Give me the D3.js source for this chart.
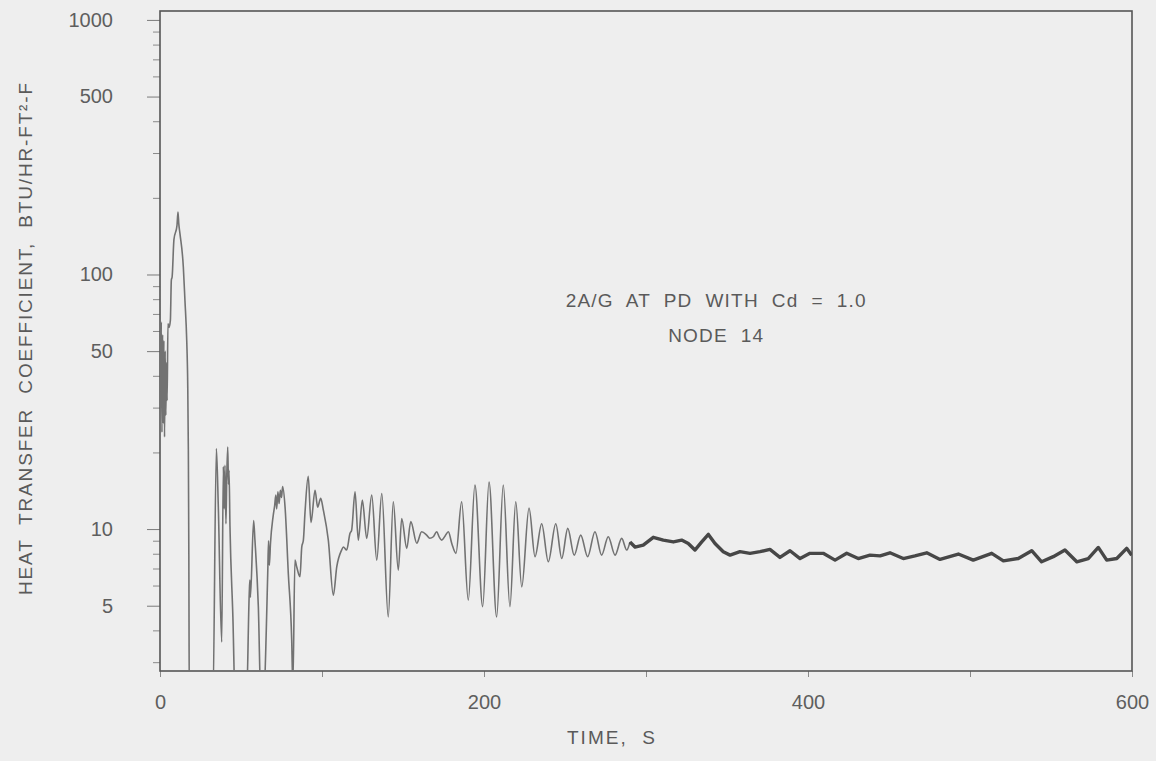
<!DOCTYPE html>
<html>
<head>
<meta charset="utf-8">
<script src="https://cdn.jsdelivr.net/npm/d3@7"></script>
<style>
  html, body { margin: 0; padding: 0; background: #eeeeee; }
  svg { display: block; }
  text { font-family: "Liberation Sans", Arial, sans-serif; fill: #5a5a5a; }
</style>
</head>
<body>
<svg id="chart" width="1156" height="761"></svg>
<script>
// ---- data (time in s, heat transfer coefficient in BTU/HR-FT2-F) ----
const timeEarly = [
  0, 0.4, 0.8, 1.2, 1.6, 2.0, 2.4, 2.8, 3.2, 3.6, 4.0, 4.4, 4.9, 5.6, 6.4, 7.0, 7.5, 8.6, 10.5, 11.1, 11.6, 12.3, 14.4, 15.4, 16.5, 17.1, 17.5, 17.8, 18.1,
  32.6, 34.8, 36.0, 38.1, 39.1, 39.6, 40.1, 40.7, 41.2, 41.8, 42.3, 42.6, 43.2, 45.0, 46.5,
  53.3, 55.1, 55.5, 55.8, 57.8, 58.6, 60.7, 62.4,
  63.6, 66.5, 67.0, 67.5, 68.2, 69.8, 70.8, 71.5, 72.0, 72.8, 73.5, 74.3, 75.0, 75.7, 77.2, 79.2, 81.3, 82.0,
  83.3, 84.4, 86.4, 87.5, 88.5, 89.5, 91.5, 93.2, 95.7, 97.3, 99.2, 100.8, 103.9, 107.0, 109.1, 112.1, 113.2, 115.2, 117.3, 118.3,
  120.4, 122.4, 124.9, 127.6, 130.7, 133.8, 136.9, 140.9, 144.0, 147.1, 149.2, 152.3, 154.8, 158.5, 161.5,
  164.6, 166.5, 168.7, 170.8, 172.4, 173.9, 176.0, 178.0, 180.1, 182.7,
  186.2, 190.3, 194.4, 199.2, 203.1, 207.8, 211.9, 216.0, 219.6, 223.3, 227.8, 231.5, 235.6, 239.7, 244.3, 248.0,
  251.7, 255.7, 259.7, 264.0, 268.5, 272.6, 276.7, 280.9, 285.0, 288.1, 290.1
];
const htcEarly = [
  112, 30, 65, 24, 58, 26, 55, 23, 50, 28, 45, 32, 64, 62, 66, 95, 98, 137, 156, 176, 158, 145, 107, 79, 55, 37.5, 20.4, 8, 2,
  2, 20.7, 12.2, 3.6, 17.6, 12, 17.8, 10.5, 16, 21.0, 15, 17, 10.2, 4.5, 2,
  2, 5.6, 6.3, 5.4, 10.8, 9.05, 4.96, 2,
  2, 6.7, 9.0, 7.2, 8.8, 11.2, 12.4, 13.6, 12.0, 14.0, 12.6, 14.2, 13.3, 14.7, 12.2, 6.7, 3.66, 2.4,
  7.55, 7.1, 6.5, 8.5, 9.05, 11.6, 16.1, 10.6, 14.2, 12.2, 13.2, 11.9, 9.05, 5.5, 7.1, 8.27, 8.5, 8.27, 9.62, 9.9,
  14.0, 9.05, 13.0, 9.19, 13.6, 7.55, 13.8, 4.52, 12.8, 6.9, 11.0, 8.4, 10.7, 8.8, 9.76,
  9.47, 9.2, 9.33, 9.76, 9.3, 9.05, 9.4, 9.76, 8.78, 8.03,
  12.8, 5.26, 14.9, 4.96, 15.3, 4.52, 14.9, 4.96, 12.8, 5.93, 12.1, 7.79, 10.5, 7.44, 10.5, 7.66,
  10.06, 7.9, 9.47, 7.79, 9.76, 7.9, 9.33, 7.9, 9.19, 8.27, 8.9
];
const timeLate = [
  290.1, 293.2, 298.3, 304.5, 310.7, 316.9, 322.0, 326.1, 330.2, 334.4, 338.5, 342.6, 347.7, 351.9, 358.0, 364.2,
  370.4, 376.5, 382.7, 388.9, 395.1, 401.2, 409.4, 416.7, 423.9, 431.0, 438.3, 444.5, 450.6, 458.8, 466.0, 473.3,
  481.5, 492.8, 502.0, 513.4, 520.6, 529.8, 538.1, 544.2, 551.4, 558.6, 565.9, 573.0, 579.2, 584.4, 590.6, 596.7, 599.8
];
const htcLate = [
  8.9, 8.5, 8.65, 9.28, 9.05, 8.9, 9.05, 8.78, 8.27, 8.9, 9.53, 8.78, 8.15, 7.9, 8.15, 8.03,
  8.15, 8.32, 7.74, 8.22, 7.66, 8.03, 8.03, 7.55, 8.03, 7.66, 7.9, 7.85, 8.07, 7.66, 7.85, 8.07,
  7.6, 7.98, 7.55, 8.03, 7.5, 7.66, 8.22, 7.44, 7.79, 8.27, 7.44, 7.66, 8.47, 7.55, 7.66, 8.4, 7.9
];
const yMajorTicks = [5, 10, 50, 100, 500, 1000];
const yMinorTicks = [3, 4, 6, 7, 8, 9, 20, 30, 40, 60, 70, 80, 90, 200, 300, 400, 600, 700, 800, 900];
const xMajorTicks = [0, 200, 400, 600];
const xMinorTicks = [100, 300, 500];
const yDomain = [2.77, 1084];
const xDomain = [0, 600];
const annotationLines = ["2A/G  AT  PD  WITH  Cd  =  1.0", "NODE  14"];
const xTitle = "TIME,  S";
const yTitle = "HEAT  TRANSFER  COEFFICIENT,  BTU/HR-FT²-F";

// ---- layout ----
const pL = 160, pR = 1132, pT = 11, pB = 671;
const svg = d3.select("#chart");
const x = d3.scaleLinear().domain(xDomain).range([pL, pR]);
const y = d3.scaleLog().domain(yDomain).range([pB, pT]);

svg.append("defs").append("clipPath").attr("id", "plotClip")
  .append("rect").attr("x", pL).attr("y", pT).attr("width", pR - pL).attr("height", pB - pT);

const fontFam = "'Liberation Sans', Arial, sans-serif";

// minor y ticks
const yMinorAxis = d3.axisLeft(y).tickValues(yMinorTicks).tickSize(7).tickFormat("");
svg.append("g").attr("transform", `translate(${pL},0)`).call(yMinorAxis)
  .call(g => g.select(".domain").remove())
  .call(g => g.selectAll("line").attr("stroke", "#8a8a8a").attr("stroke-width", 1));

// major y ticks
const yAxis = d3.axisLeft(y).tickValues(yMajorTicks).tickSize(13).tickPadding(34).tickFormat(d3.format("d"));
svg.append("g").attr("transform", `translate(${pL},0)`).call(yAxis)
  .call(g => g.select(".domain").remove())
  .call(g => g.selectAll("line").attr("stroke", "#7a7a7a").attr("stroke-width", 1))
  .call(g => g.selectAll("text").style("font-size", "20px").style("fill", "#5e5e5e").style("font-family", fontFam));

// x ticks
const xMinorAxis = d3.axisBottom(x).tickValues(xMinorTicks).tickSize(6).tickFormat("");
svg.append("g").attr("transform", `translate(0,${pB})`).call(xMinorAxis)
  .call(g => g.select(".domain").remove())
  .call(g => g.selectAll("line").attr("stroke", "#8a8a8a"));
const xAxis = d3.axisBottom(x).tickValues(xMajorTicks).tickSize(6).tickPadding(18).tickFormat(d3.format("d"));
svg.append("g").attr("transform", `translate(0,${pB})`).call(xAxis)
  .call(g => g.select(".domain").remove())
  .call(g => g.selectAll("line").attr("stroke", "#8a8a8a"))
  .call(g => g.selectAll("text").style("font-size", "20px").style("fill", "#5e5e5e").style("font-family", fontFam));

// frame
svg.append("rect").attr("x", pL).attr("y", pT).attr("width", pR - pL).attr("height", pB - pT)
  .attr("fill", "none").attr("stroke", "#555").attr("stroke-width", 1.6);

// curve
const lineSmooth = d3.line().x(d => x(d[0])).y(d => y(d[1])).curve(d3.curveMonotoneX);
const lineLate = d3.line().x(d => x(d[0])).y(d => y(d[1]));
const early = timeEarly.map((t, i) => [t, htcEarly[i]]);
const late = timeLate.map((t, i) => [t, htcLate[i]]);
const plot = svg.append("g").attr("clip-path", "url(#plotClip)");
plot.append("path").datum(early).attr("d", lineSmooth)
  .attr("fill", "none").attr("stroke", "#727272").attr("stroke-width", 1.6).attr("stroke-linejoin", "round");
plot.append("path").datum(late).attr("d", lineLate)
  .attr("fill", "none").attr("stroke", "#474747").attr("stroke-width", 3.4).attr("stroke-linejoin", "round");

// annotation
const annX = x(343);
svg.append("text").attr("x", annX).attr("y", 307).attr("text-anchor", "middle")
  .attr("textLength", 300).attr("lengthAdjust", "spacing").style("white-space", "pre")
  .style("font-size", "19px").text(annotationLines[0]);
svg.append("text").attr("x", annX).attr("y", 342).attr("text-anchor", "middle")
  .attr("textLength", 95).attr("lengthAdjust", "spacing").style("white-space", "pre")
  .style("font-size", "19px").text(annotationLines[1]);

// axis titles
svg.append("text").attr("x", 611).attr("y", 744).attr("text-anchor", "middle")
  .attr("textLength", 88).attr("lengthAdjust", "spacing").style("white-space", "pre")
  .style("font-size", "19px").text(xTitle);
svg.append("text").attr("transform", "translate(32,339) rotate(-90)").attr("text-anchor", "middle")
  .attr("textLength", 512).attr("lengthAdjust", "spacing").style("white-space", "pre")
  .style("font-size", "19px").text(yTitle);
</script>
</body>
</html>
